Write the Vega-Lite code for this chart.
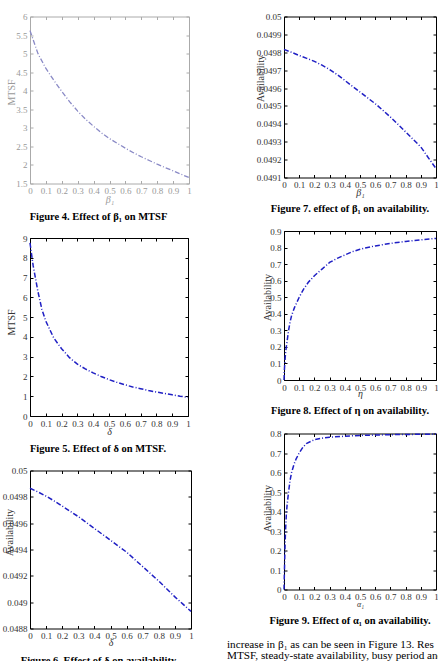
{
  "$schema": "https://vega.github.io/schema/vega-lite/v6.json",
  "background": "white",
  "padding": {"left": 1, "top": 11.5, "right": 0, "bottom": 0},
  "bounds": "flush",
  "spacing": 254,
  "config": {
    "view": {"stroke": null},
    "axis": {
      "labelFont": "Liberation Serif", "labelFontSize": 9, "labelColor": "#333",
      "titleFont": "Liberation Serif", "titleFontSize": 10, "titleFontWeight": "normal", "titleColor": "#333",
      "tickSize": -3, "tickColor": "#000", "domain": false, "grid": false,
      "labelPadding": 6, "labelFlush": false, "labelOverlap": false, "format": "~g",
      "titleBaseline": "middle", "titleAngle": 0
    },
    "axisLeft": {"titleAngle": -90},
    "title": {"font": "Liberation Serif", "fontSize": 10.5, "fontWeight": "bold", "color": "#000", "orient": "bottom", "anchor": "middle", "frame": "group", "offset": 8}
  },
  "hconcat": [
    {
      "bounds": "flush",
      "spacing": 54.5,
      "vconcat": [
        {
          "width": 159, "height": 167,
          "view": {"stroke": "#aaa"},
          "title": {"text": "Figure 4. Effect of  β₁  on MTSF", "dx": -11},
          "data": {"values": [
            {"x": 0, "y": 5.62}, {"x": 0.05, "y": 5.0}, {"x": 0.1, "y": 4.6}, {"x": 0.15, "y": 4.28},
            {"x": 0.2, "y": 3.98}, {"x": 0.25, "y": 3.7}, {"x": 0.3, "y": 3.45}, {"x": 0.35, "y": 3.23},
            {"x": 0.4, "y": 3.04}, {"x": 0.45, "y": 2.86}, {"x": 0.5, "y": 2.71}, {"x": 0.55, "y": 2.58},
            {"x": 0.6, "y": 2.45}, {"x": 0.65, "y": 2.33}, {"x": 0.7, "y": 2.22}, {"x": 0.75, "y": 2.12},
            {"x": 0.8, "y": 2.02}, {"x": 0.85, "y": 1.93}, {"x": 0.9, "y": 1.84}, {"x": 0.95, "y": 1.75},
            {"x": 1.0, "y": 1.66}
          ]},
          "layer": [
            {
              "mark": {"type": "line", "color": "#8a8ac6", "strokeWidth": 1.3, "strokeDash": [5, 2, 1, 2]},
              "encoding": {
                "x": {"field": "x", "type": "quantitative", "scale": {"domain": [0, 1], "nice": false},
                      "axis": {"orient": "bottom", "values": [0,0.1,0.2,0.3,0.4,0.5,0.6,0.7,0.8,0.9,1], "title": "β₁", "titleFontStyle": "italic", "titleY": 15.5, "labelColor": "#999", "titleColor": "#999", "tickColor": "#aaa"}},
                "y": {"field": "y", "type": "quantitative", "scale": {"domain": [1.5, 6], "nice": false, "zero": false},
                      "axis": {"orient": "left", "values": [1.5,2,2.5,3,3.5,4,4.5,5,5.5,6], "title": "MTSF", "titleX": -19, "titleY": 75.5, "labelColor": "#999", "titleColor": "#999", "tickColor": "#aaa"}}
              }
            },
            {
              "mark": {"type": "point", "opacity": 0},
              "encoding": {
                "x": {"field": "x", "type": "quantitative", "scale": {"domain": [0, 1], "nice": false},
                      "axis": {"orient": "top", "values": [0,0.1,0.2,0.3,0.4,0.5,0.6,0.7,0.8,0.9,1], "labels": false, "title": null, "tickColor": "#aaa"}},
                "y": {"field": "y", "type": "quantitative", "scale": {"domain": [1.5, 6], "nice": false, "zero": false},
                      "axis": {"orient": "right", "values": [1.5,2,2.5,3,3.5,4,4.5,5,5.5,6], "labels": false, "title": null, "tickColor": "#aaa"}}
              }
            }
          ]
        },
        {
          "width": 158, "height": 178,
          "view": {"stroke": "#000"},
          "title": {"text": "Figure 5. Effect of  δ  on MTSF.", "dx": -11},
          "data": {"values": [
            {"x": 0, "y": 8.75}, {"x": 0.02, "y": 7.6}, {"x": 0.05, "y": 6.3}, {"x": 0.075, "y": 5.4},
            {"x": 0.1, "y": 4.8}, {"x": 0.15, "y": 3.95}, {"x": 0.2, "y": 3.4}, {"x": 0.25, "y": 2.95},
            {"x": 0.3, "y": 2.62}, {"x": 0.35, "y": 2.38}, {"x": 0.4, "y": 2.18}, {"x": 0.45, "y": 2.0},
            {"x": 0.5, "y": 1.84}, {"x": 0.55, "y": 1.7}, {"x": 0.6, "y": 1.58}, {"x": 0.65, "y": 1.47},
            {"x": 0.7, "y": 1.38}, {"x": 0.75, "y": 1.29}, {"x": 0.8, "y": 1.21}, {"x": 0.85, "y": 1.14},
            {"x": 0.9, "y": 1.07}, {"x": 0.95, "y": 1.0}, {"x": 1.0, "y": 0.94}
          ]},
          "layer": [
            {
              "mark": {"type": "line", "color": "#1f1fc4", "strokeWidth": 1.5, "strokeDash": [5, 2, 1, 2]},
              "encoding": {
                "x": {"field": "x", "type": "quantitative", "scale": {"domain": [0, 1], "nice": false},
                      "axis": {"orient": "bottom", "values": [0,0.1,0.2,0.3,0.4,0.5,0.6,0.7,0.8,0.9,1], "title": "δ", "titleFontStyle": "italic", "titleY": 15}},
                "y": {"field": "y", "type": "quantitative", "scale": {"domain": [0, 9], "nice": false},
                      "axis": {"orient": "left", "values": [0,1,2,3,4,5,6,7,8,9], "title": "MTSF", "titleX": -19, "titleY": 84}}
              }
            },
            {
              "mark": {"type": "point", "opacity": 0},
              "encoding": {
                "x": {"field": "x", "type": "quantitative", "scale": {"domain": [0, 1], "nice": false},
                      "axis": {"orient": "top", "values": [0,0.1,0.2,0.3,0.4,0.5,0.6,0.7,0.8,0.9,1], "labels": false, "title": null}},
                "y": {"field": "y", "type": "quantitative", "scale": {"domain": [0, 9], "nice": false},
                      "axis": {"orient": "right", "values": [0,1,2,3,4,5,6,7,8,9], "labels": false, "title": null}}
              }
            }
          ]
        },
        {
          "width": 161, "height": 158,
          "view": {"stroke": "#000"},
          "title": {"text": "Figure 6. Effect of  δ  on availability.", "dx": -11},
          "data": {"values": [
            {"x": 0, "y": 0.049865}, {"x": 0.05, "y": 0.049837}, {"x": 0.1, "y": 0.049805}, {"x": 0.15, "y": 0.049769},
            {"x": 0.2, "y": 0.04973}, {"x": 0.25, "y": 0.04969}, {"x": 0.3, "y": 0.04965}, {"x": 0.35, "y": 0.049605},
            {"x": 0.4, "y": 0.04956}, {"x": 0.45, "y": 0.049515}, {"x": 0.5, "y": 0.04947}, {"x": 0.55, "y": 0.049425},
            {"x": 0.6, "y": 0.04938}, {"x": 0.65, "y": 0.049325}, {"x": 0.7, "y": 0.04927}, {"x": 0.75, "y": 0.049215},
            {"x": 0.8, "y": 0.04916}, {"x": 0.85, "y": 0.0491}, {"x": 0.9, "y": 0.04904}, {"x": 0.95, "y": 0.048985},
            {"x": 1.0, "y": 0.04893}
          ]},
          "layer": [
            {
              "mark": {"type": "line", "color": "#1f1fc4", "strokeWidth": 1.5, "strokeDash": [5, 2, 1, 2]},
              "encoding": {
                "x": {"field": "x", "type": "quantitative", "scale": {"domain": [0, 1], "nice": false},
                      "axis": {"orient": "bottom", "values": [0,0.1,0.2,0.3,0.4,0.5,0.6,0.7,0.8,0.9,1], "title": "δ", "titleFontStyle": "italic", "titleY": 14}},
                "y": {"field": "y", "type": "quantitative", "scale": {"domain": [0.0488, 0.05], "nice": false, "zero": false},
                      "axis": {"orient": "left", "values": [0.0488,0.049,0.0492,0.0494,0.0496,0.0498,0.05], "title": "Availability", "titleX": -21, "titleY": 61.5}}
              }
            },
            {
              "mark": {"type": "point", "opacity": 0},
              "encoding": {
                "x": {"field": "x", "type": "quantitative", "scale": {"domain": [0, 1], "nice": false},
                      "axis": {"orient": "top", "values": [0,0.1,0.2,0.3,0.4,0.5,0.6,0.7,0.8,0.9,1], "labels": false, "title": null}},
                "y": {"field": "y", "type": "quantitative", "scale": {"domain": [0.0488, 0.05], "nice": false, "zero": false},
                      "axis": {"orient": "right", "values": [0.0488,0.049,0.0492,0.0494,0.0496,0.0498,0.05], "labels": false, "title": null}}
              }
            }
          ]
        }
      ]
    },
    {
      "bounds": "flush",
      "spacing": 53.5,
      "vconcat": [
        {
          "width": 152, "height": 161,
          "view": {"stroke": "#000"},
          "title": {"text": "Figure 7. effect of  β₁  on availability.", "dx": -10, "offset": 6},
          "data": {"values": [
            {"x": 0, "y": 0.049816}, {"x": 0.05, "y": 0.0498}, {"x": 0.1, "y": 0.049782}, {"x": 0.15, "y": 0.049766},
            {"x": 0.2, "y": 0.049749}, {"x": 0.25, "y": 0.049728}, {"x": 0.3, "y": 0.049704}, {"x": 0.35, "y": 0.049675},
            {"x": 0.4, "y": 0.049643}, {"x": 0.45, "y": 0.04961}, {"x": 0.5, "y": 0.049578}, {"x": 0.55, "y": 0.049545},
            {"x": 0.6, "y": 0.049513}, {"x": 0.65, "y": 0.049476}, {"x": 0.7, "y": 0.049438}, {"x": 0.75, "y": 0.049397},
            {"x": 0.8, "y": 0.049355}, {"x": 0.85, "y": 0.049313}, {"x": 0.9, "y": 0.049271}, {"x": 0.95, "y": 0.04921},
            {"x": 1.0, "y": 0.04915}
          ]},
          "layer": [
            {
              "mark": {"type": "line", "color": "#1f1fc4", "strokeWidth": 1.5, "strokeDash": [5, 2, 1, 2]},
              "encoding": {
                "x": {"field": "x", "type": "quantitative", "scale": {"domain": [0, 1], "nice": false},
                      "axis": {"orient": "bottom", "values": [0,0.1,0.2,0.3,0.4,0.5,0.6,0.7,0.8,0.9,1], "title": "β₁", "titleFontStyle": "italic", "titleY": 15}},
                "y": {"field": "y", "type": "quantitative", "scale": {"domain": [0.0491, 0.05], "nice": false, "zero": false},
                      "axis": {"orient": "left", "values": [0.0491,0.0492,0.0493,0.0494,0.0495,0.0496,0.0497,0.0498,0.0499,0.05], "title": "Availability", "titleX": -24, "titleY": 61.5}}
              }
            },
            {
              "mark": {"type": "point", "opacity": 0},
              "encoding": {
                "x": {"field": "x", "type": "quantitative", "scale": {"domain": [0, 1], "nice": false},
                      "axis": {"orient": "top", "values": [0,0.1,0.2,0.3,0.4,0.5,0.6,0.7,0.8,0.9,1], "labels": false, "title": null}},
                "y": {"field": "y", "type": "quantitative", "scale": {"domain": [0.0491, 0.05], "nice": false, "zero": false},
                      "axis": {"orient": "right", "values": [0.0491,0.0492,0.0493,0.0494,0.0495,0.0496,0.0497,0.0498,0.0499,0.05], "labels": false, "title": null}}
              }
            }
          ]
        },
        {
          "width": 152, "height": 149,
          "view": {"stroke": "#000"},
          "title": {"text": "Figure 8. Effect of  η  on availability.", "dx": -10},
          "data": {"values": [
            {"x": 0, "y": 0}, {"x": 0.002, "y": 0.05}, {"x": 0.005, "y": 0.1}, {"x": 0.01, "y": 0.16},
            {"x": 0.015, "y": 0.2}, {"x": 0.02, "y": 0.23}, {"x": 0.03, "y": 0.3}, {"x": 0.04, "y": 0.35},
            {"x": 0.05, "y": 0.39}, {"x": 0.07, "y": 0.44}, {"x": 0.1, "y": 0.5}, {"x": 0.13, "y": 0.55},
            {"x": 0.16, "y": 0.59}, {"x": 0.2, "y": 0.63}, {"x": 0.25, "y": 0.67}, {"x": 0.3, "y": 0.71},
            {"x": 0.35, "y": 0.735}, {"x": 0.4, "y": 0.755}, {"x": 0.45, "y": 0.775}, {"x": 0.5, "y": 0.79},
            {"x": 0.6, "y": 0.81}, {"x": 0.7, "y": 0.825}, {"x": 0.8, "y": 0.837}, {"x": 0.9, "y": 0.847},
            {"x": 1.0, "y": 0.855}
          ]},
          "layer": [
            {
              "mark": {"type": "line", "color": "#1f1fc4", "strokeWidth": 1.5, "strokeDash": [5, 2, 1, 2]},
              "encoding": {
                "x": {"field": "x", "type": "quantitative", "scale": {"domain": [0, 1], "nice": false},
                      "axis": {"orient": "bottom", "values": [0,0.1,0.2,0.3,0.4,0.5,0.6,0.7,0.8,0.9,1], "title": "η", "titleFontStyle": "italic", "titleY": 13}},
                "y": {"field": "y", "type": "quantitative", "scale": {"domain": [0, 0.9], "nice": false},
                      "axis": {"orient": "left", "values": [0,0.1,0.2,0.3,0.4,0.5,0.6,0.7,0.8,0.9], "title": "Availability", "titleX": -17, "titleY": 66}}
              }
            },
            {
              "mark": {"type": "point", "opacity": 0},
              "encoding": {
                "x": {"field": "x", "type": "quantitative", "scale": {"domain": [0, 1], "nice": false},
                      "axis": {"orient": "top", "values": [0,0.1,0.2,0.3,0.4,0.5,0.6,0.7,0.8,0.9,1], "labels": false, "title": null}},
                "y": {"field": "y", "type": "quantitative", "scale": {"domain": [0, 0.9], "nice": false},
                      "axis": {"orient": "right", "values": [0,0.1,0.2,0.3,0.4,0.5,0.6,0.7,0.8,0.9], "labels": false, "title": null}}
              }
            }
          ]
        },
        {
          "width": 152, "height": 156,
          "view": {"stroke": "#000"},
          "title": {"text": "Figure 9. Effect of  α₁  on availability.", "dx": -10},
          "data": {"values": [
            {"x": 0, "y": 0}, {"x": 0.003, "y": 0.1}, {"x": 0.006, "y": 0.2}, {"x": 0.01, "y": 0.3},
            {"x": 0.015, "y": 0.38}, {"x": 0.02, "y": 0.43}, {"x": 0.03, "y": 0.5}, {"x": 0.04, "y": 0.56},
            {"x": 0.05, "y": 0.6}, {"x": 0.065, "y": 0.64}, {"x": 0.08, "y": 0.67}, {"x": 0.1, "y": 0.7},
            {"x": 0.125, "y": 0.73}, {"x": 0.15, "y": 0.75}, {"x": 0.2, "y": 0.768}, {"x": 0.25, "y": 0.776},
            {"x": 0.3, "y": 0.781}, {"x": 0.4, "y": 0.786}, {"x": 0.5, "y": 0.79}, {"x": 0.6, "y": 0.792},
            {"x": 0.7, "y": 0.794}, {"x": 0.8, "y": 0.795}, {"x": 0.9, "y": 0.796}, {"x": 1.0, "y": 0.797}
          ]},
          "layer": [
            {
              "mark": {"type": "line", "color": "#1f1fc4", "strokeWidth": 1.5, "strokeDash": [5, 2, 1, 2]},
              "encoding": {
                "x": {"field": "x", "type": "quantitative", "scale": {"domain": [0, 1], "nice": false},
                      "axis": {"orient": "bottom", "values": [0,0.1,0.2,0.3,0.4,0.5,0.6,0.7,0.8,0.9,1], "title": "α₁", "titleFontStyle": "italic", "titleFontSize": 8, "titleY": 14.5}},
                "y": {"field": "y", "type": "quantitative", "scale": {"domain": [0, 0.8], "nice": false},
                      "axis": {"orient": "left", "values": [0,0.1,0.2,0.3,0.4,0.5,0.6,0.7,0.8], "title": "Availability", "titleX": -17, "titleY": 74.5}}
              }
            },
            {
              "mark": {"type": "point", "opacity": 0},
              "encoding": {
                "x": {"field": "x", "type": "quantitative", "scale": {"domain": [0, 1], "nice": false},
                      "axis": {"orient": "top", "values": [0,0.1,0.2,0.3,0.4,0.5,0.6,0.7,0.8,0.9,1], "labels": false, "title": null}},
                "y": {"field": "y", "type": "quantitative", "scale": {"domain": [0, 0.8], "nice": false},
                      "axis": {"orient": "right", "values": [0,0.1,0.2,0.3,0.4,0.5,0.6,0.7,0.8], "labels": false, "title": null}}
              }
            }
          ]
        },
        {
          "width": 152, "height": 11.5,
          "view": {"stroke": null},
          "data": {"values": [
            {"line": 1, "text": "increase in  β₁  as can be seen in Figure 13. Res"},
            {"line": 2, "text": "MTSF, steady-state availability, busy period and"}
          ]},
          "mark": {"type": "text", "align": "left", "baseline": "middle", "dx": -133, "dy": 1.5, "font": "Liberation Serif", "fontSize": 11.2, "color": "#000"},
          "encoding": {
            "y": {"field": "line", "type": "quantitative", "scale": {"domain": [1, 2], "reverse": true, "nice": false, "zero": false}, "axis": null},
            "text": {"field": "text"}
          }
        }
      ]
    }
  ]
}
